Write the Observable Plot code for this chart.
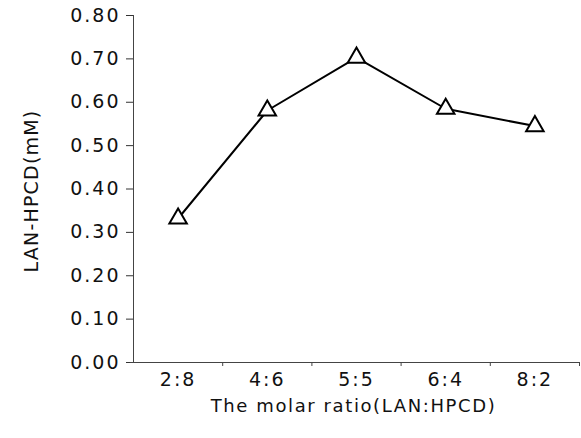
<!DOCTYPE html>
<html>
<head>
<meta charset="utf-8">
<script src="https://cdn.jsdelivr.net/npm/d3@7"></script>
<script src="https://cdn.jsdelivr.net/npm/@observablehq/plot@0.6"></script>
<style>
  html, body { margin: 0; padding: 0; background: #fff; }
  #chart svg { display: block; }
  #chart g[aria-label="y-axis tick label"] text { letter-spacing: 2px; }
  #chart g[aria-label="x-axis tick label"] text { letter-spacing: 2px; }
  #chart .ytitle text { letter-spacing: 1.2px; }
  #chart .xtitle text { letter-spacing: 1.6px; }
</style>
</head>
<body>
<div id="chart"></div>
<script>
const categories = ["2:8", "4:6", "5:5", "6:4", "8:2"];
const values = [0.332, 0.581, 0.703, 0.585, 0.545];
const yTicks = [0, 0.1, 0.2, 0.3, 0.4, 0.5, 0.6, 0.7, 0.8];
const xTitle = "The molar ratio(LAN:HPCD)";
const yTitle = "LAN-HPCD(mM)";

const data = categories.map((c, i) => ({i, c, v: values[i]}));
const boundaries = d3.range(0.5, categories.length + 0.5, 1);
const font = "'DejaVu Sans', sans-serif";

const chart = Plot.plot({
  width: 581,
  height: 438,
  marginLeft: 133,
  marginRight: 2,
  marginTop: 15,
  marginBottom: 76,
  style: {fontFamily: font, color: "#111", background: "#fff"},
  x: {type: "linear", domain: [-0.5, categories.length - 0.5]},
  y: {domain: [0, 0.8]},
  marks: [
    Plot.axisY({ticks: yTicks, tickSize: 7, tickPadding: 6, fontSize: 19, tickFormat: d3.format(".2f"),
      label: null, stroke: "#333"}),
    Plot.text([yTitle], {frameAnchor: "left", textAnchor: "middle", dx: -102, dy: 2, rotate: -90,
      fontSize: 19, fill: "#111", className: "ytitle"}),
    Plot.ruleY([0], {stroke: "#444", x1: -0.535, x2: categories.length - 0.5}),
    Plot.ruleX([0], {y1: 0, y2: 0.8, x: -0.5, stroke: "#444"}),
    Plot.axisX({ticks: boundaries, tickSize: 4, tickFormat: () => "", label: null, stroke: "#444"}),
    Plot.axisX({ticks: d3.range(categories.length), tickSize: 0, tickPadding: 10, fontSize: 19,
      tickFormat: i => categories[i], label: null}),
    Plot.text([xTitle], {frameAnchor: "bottom", dy: 49, dx: -3, fontSize: 18, fill: "#111", className: "xtitle"}),
    Plot.line(data, {x: "i", y: "v", stroke: "#000", strokeWidth: 2}),
    Plot.dot(data, {x: "i", y: "v", symbol: "triangle", r: 6.5, stroke: "#000", strokeWidth: 2, fill: "#fff"})
  ]
});
document.getElementById("chart").appendChild(chart);
</script>
</body>
</html>
